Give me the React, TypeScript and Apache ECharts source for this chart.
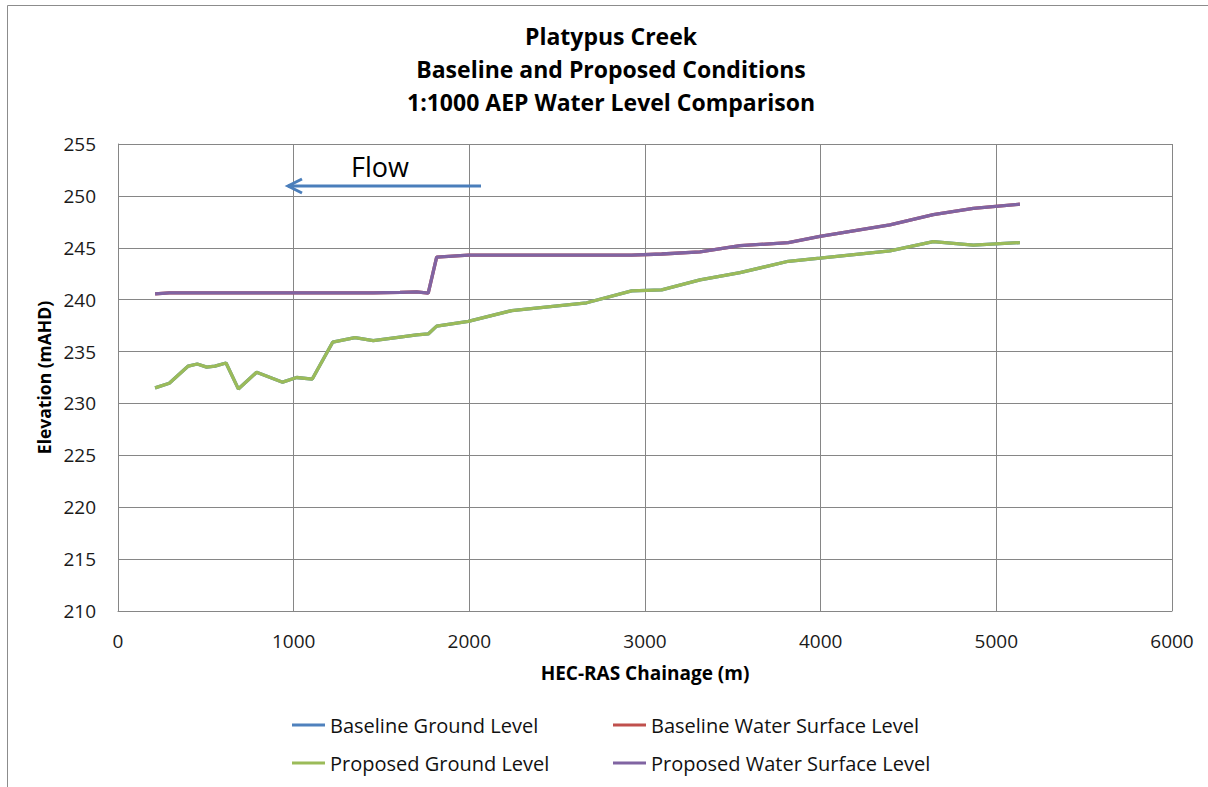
import React, { useEffect, useRef } from "react";
import * as echarts from "echarts";

const chainage = [211, 292, 400, 451, 505, 552, 615, 685, 789, 937, 1017, 1106, 1222, 1349, 1453, 1605, 1700, 1766, 1814, 1994, 2241, 2668, 2924, 3095, 3313, 3541, 3816, 3996, 4394, 4641, 4869, 5134];
const groundLevel = [231.5, 231.95, 233.6, 233.8, 233.5, 233.6, 233.9, 231.4, 233.0, 232.05, 232.5, 232.35, 235.9, 236.35, 236.05, 236.4, 236.6, 236.7, 237.45, 237.9, 238.95, 239.7, 240.85, 240.95, 241.9, 242.6, 243.7, 244.0, 244.7, 245.6, 245.25, 245.5];
const waterLevel = [240.55, 240.65, 240.65, 240.65, 240.65, 240.65, 240.65, 240.65, 240.65, 240.65, 240.65, 240.65, 240.65, 240.65, 240.65, 240.7, 240.76, 240.62, 244.1, 244.3, 244.3, 244.3, 244.3, 244.4, 244.6, 245.2, 245.5, 246.1, 247.2, 248.2, 248.8, 249.2];

const seriesNames = ["Baseline Ground Level", "Baseline Water Surface Level", "Proposed Ground Level", "Proposed Water Surface Level"];
const seriesColors = ["#4f81bd", "#c0504d", "#9bbb59", "#8064a2"];
const titleLines = ["Platypus Creek", "Baseline and Proposed Conditions", "1:1000 AEP Water Level Comparison"];

const FONT = "'Open Sans', sans-serif";

export default function App() {
  const ref = useRef<HTMLDivElement>(null);
  useEffect(() => {
    if (!ref.current) return;
    const chart = echarts.init(ref.current, undefined, { renderer: "svg" });
    const pairs = (ys: number[]) => chainage.map((x, i) => [x, ys[i]]);
    const seriesData = [groundLevel, waterLevel, groundLevel, waterLevel];
    const legendPos = [
      { left: 292, top: 715 },
      { left: 613, top: 715 },
      { left: 292, top: 753 },
      { left: 613, top: 753 },
    ];
    chart.setOption({
      animation: false,
      backgroundColor: "#ffffff",
      textStyle: { fontFamily: FONT },
      title: {
        text: titleLines.join("\n"),
        left: 606,
        textAlign: "center",
        top: 14,
        textStyle: { fontFamily: FONT, fontSize: 23, fontWeight: "bold", color: "#000", lineHeight: 33 },
      },
      grid: { left: 118, top: 144, width: 1054, height: 467, containLabel: false },
      xAxis: {
        type: "value",
        min: 0,
        max: 6000,
        interval: 1000,
        name: "HEC-RAS Chainage (m)",
        nameLocation: "middle",
        nameGap: 52,
        nameTextStyle: { fontFamily: FONT, fontSize: 19, fontWeight: "bold", color: "#000" },
        axisLine: { show: true, lineStyle: { color: "#868686", width: 1 } },
        axisTick: { show: false },
        axisLabel: { fontFamily: FONT, fontSize: 19, color: "#1a1a1a", margin: 20, formatter: (v: number) => String(v) },
        splitLine: { show: true, lineStyle: { color: "#868686", width: 1 } },
      },
      yAxis: {
        type: "value",
        min: 210,
        max: 255,
        interval: 5,
        name: "Elevation (mAHD)",
        nameLocation: "middle",
        nameGap: 64,
        nameTextStyle: { fontFamily: FONT, fontSize: 17.5, fontWeight: "bold", color: "#000" },
        axisLine: { show: true, lineStyle: { color: "#868686", width: 1 } },
        axisTick: { show: false },
        axisLabel: { fontFamily: FONT, fontSize: 19, color: "#1a1a1a", margin: 22 },
        splitLine: { show: true, lineStyle: { color: "#868686", width: 1 } },
      },
      legend: seriesNames.map((n, i) => ({
        data: [n],
        left: legendPos[i].left,
        top: legendPos[i].top,
        icon: "rect",
        itemWidth: 33,
        itemHeight: 3,
        itemGap: 0,
        padding: 0,
        textStyle: { fontFamily: FONT, fontSize: 20, color: "#111" },
      })),
      series: seriesNames.map((n, i) => ({
        name: n,
        type: "line",
        data: pairs(seriesData[i]),
        showSymbol: false,
        symbol: "none",
        lineStyle: { color: seriesColors[i], width: 3.3 },
        itemStyle: { color: seriesColors[i] },
        z: 2 + i,
      })),
      graphic: [
        {
          type: "rect",
          shape: { x: 7.5, y: 5.5, width: 1300, height: 900 },
          style: { fill: "none", stroke: "#8c8c8c", lineWidth: 1 },
          silent: true,
        },
        {
          type: "line",
          shape: { x1: 481, y1: 186, x2: 288, y2: 186 },
          style: { stroke: "#4a7ebb", lineWidth: 3 },
          z: 100,
        },
        {
          type: "polyline",
          shape: { points: [[302, 179], [288, 186], [302, 193]] },
          style: { stroke: "#4a7ebb", lineWidth: 3, fill: "none" },
          z: 100,
        },
        {
          type: "text",
          x: 351,
          y: 166,
          style: { text: "Flow", fontFamily: FONT, fontSize: 27, fill: "#000", verticalAlign: "middle" },
          z: 100,
        },
      ],
    });
    return () => chart.dispose();
  }, []);
  return <div ref={ref} style={{ position: "absolute", left: 0, top: 0, width: 1208, height: 787 }} />;
}
